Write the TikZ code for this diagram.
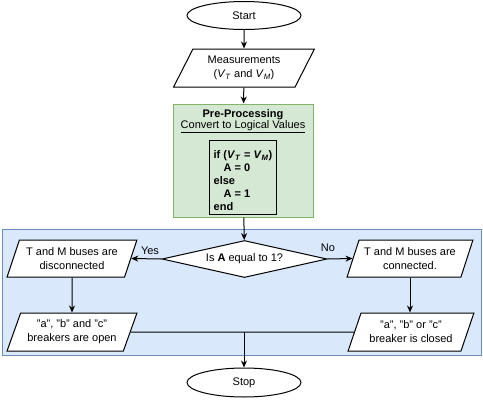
\documentclass[tikz,border=0pt]{standalone}
\usepackage{fontspec}
\setmainfont{Liberation Sans}
\usetikzlibrary{shapes.geometric,arrows.meta}
\definecolor{bluefill}{HTML}{DAE8FC}
\definecolor{bluedraw}{HTML}{6C8EBF}
\definecolor{greenfill}{HTML}{D5E8D4}
\definecolor{greendraw}{HTML}{82B366}
\tikzset{
  term/.style={ellipse, draw, fill=white, minimum width=114, minimum height=28, inner sep=0pt},
  io/.style={trapezium, trapezium left angle=#1, trapezium right angle=180-#1, trapezium stretches=true,
    draw, fill=white, align=center, inner sep=0pt},
  decision/.style={diamond, draw, fill=white, minimum width=165, minimum height=37, inner sep=0pt, aspect=4.5},
  arr/.style={draw, -{Stealth[length=7pt,width=6pt]}},
  lbl/.style={inner sep=0pt}
}
\begin{document}
\begin{tikzpicture}[x=1pt,y=-1pt, font=\fontsize{11}{14}\selectfont, line width=1pt]
\useasboundingbox (0,0) rectangle (483,400);
% regions
\node[draw=bluedraw, fill=bluefill, minimum width=479, minimum height=126, inner sep=0pt] (bus) at (241.5,292) {};
\node[draw=greendraw, fill=greenfill, minimum width=140, minimum height=113, inner sep=0pt] (pre) at (243,160.5) {};
\node[lbl, font=\fontsize{11}{14}\selectfont\bfseries] (pretitle) at (243,115) {Pre-Processing};
\node[lbl] (presub) at (243,127) {\underline{Convert to Logical Values}};
\node[draw, line width=0.8pt, minimum width=67, minimum height=74, inner sep=0pt] (codebox) at (242.5,177) {};
\node[lbl, align=left, font=\fontsize{11}{13}\selectfont\bfseries] (code) at (243,180.5)
  {if (\textit{V}\textsubscript{\textit{T}} = \textit{V}\textsubscript{\textit{M}})\\
   \hspace*{10pt}A = 0\\
   else\\
   \hspace*{10pt}A = 1\\
   end};
% nodes
\node[term] (start) at (244,15.5) {Start};
\node[io=60, minimum width=142, minimum height=38] (meas) at (244,68)
  {Measurements\\(\textit{V}\textsubscript{\textit{T}} and \textit{V}\textsubscript{\textit{M}})};
\node[decision] (dec) at (244.5,259) {Is \textbf{A} equal to 1?};
\node[io=64, minimum width=130, minimum height=37] (l1) at (72,258.5) {T and M buses are\\disconnected};
\node[io=64, minimum width=130, minimum height=38] (l2) at (72,332) {"a", "b" and "c"\\breakers are open};
\node[io=64, minimum width=126, minimum height=37] (r1) at (410,258.5) {T and M buses are\\connected.};
\node[io=64, minimum width=126, minimum height=38] (r2) at (411,332) {"a", "b" or "c"\\breaker is closed};
\node[term, minimum height=29] (stop) at (244,382.5) {Stop};
\coordinate (merge) at (244,332);
% connectors
\draw[arr] (start) -- (meas);
\draw[arr] (meas) -- (pre);
\draw[arr] (pre) -- (dec);
\draw[arr] (dec.west) -- (l1.east);
\draw[arr] (dec.east) -- (r1.west);
\draw[arr] (l1) -- (l2);
\draw[arr] (r1.south) -- (r2.north -| r1.south);
\draw (l2.east) -- (merge);
\draw (r2.west) -- (merge);
\draw[arr] (merge) -- (stop);
\node[lbl] (yes) at (150,251) {Yes};
\node[lbl] (no) at (328,248) {No};
\end{tikzpicture}
\end{document}
